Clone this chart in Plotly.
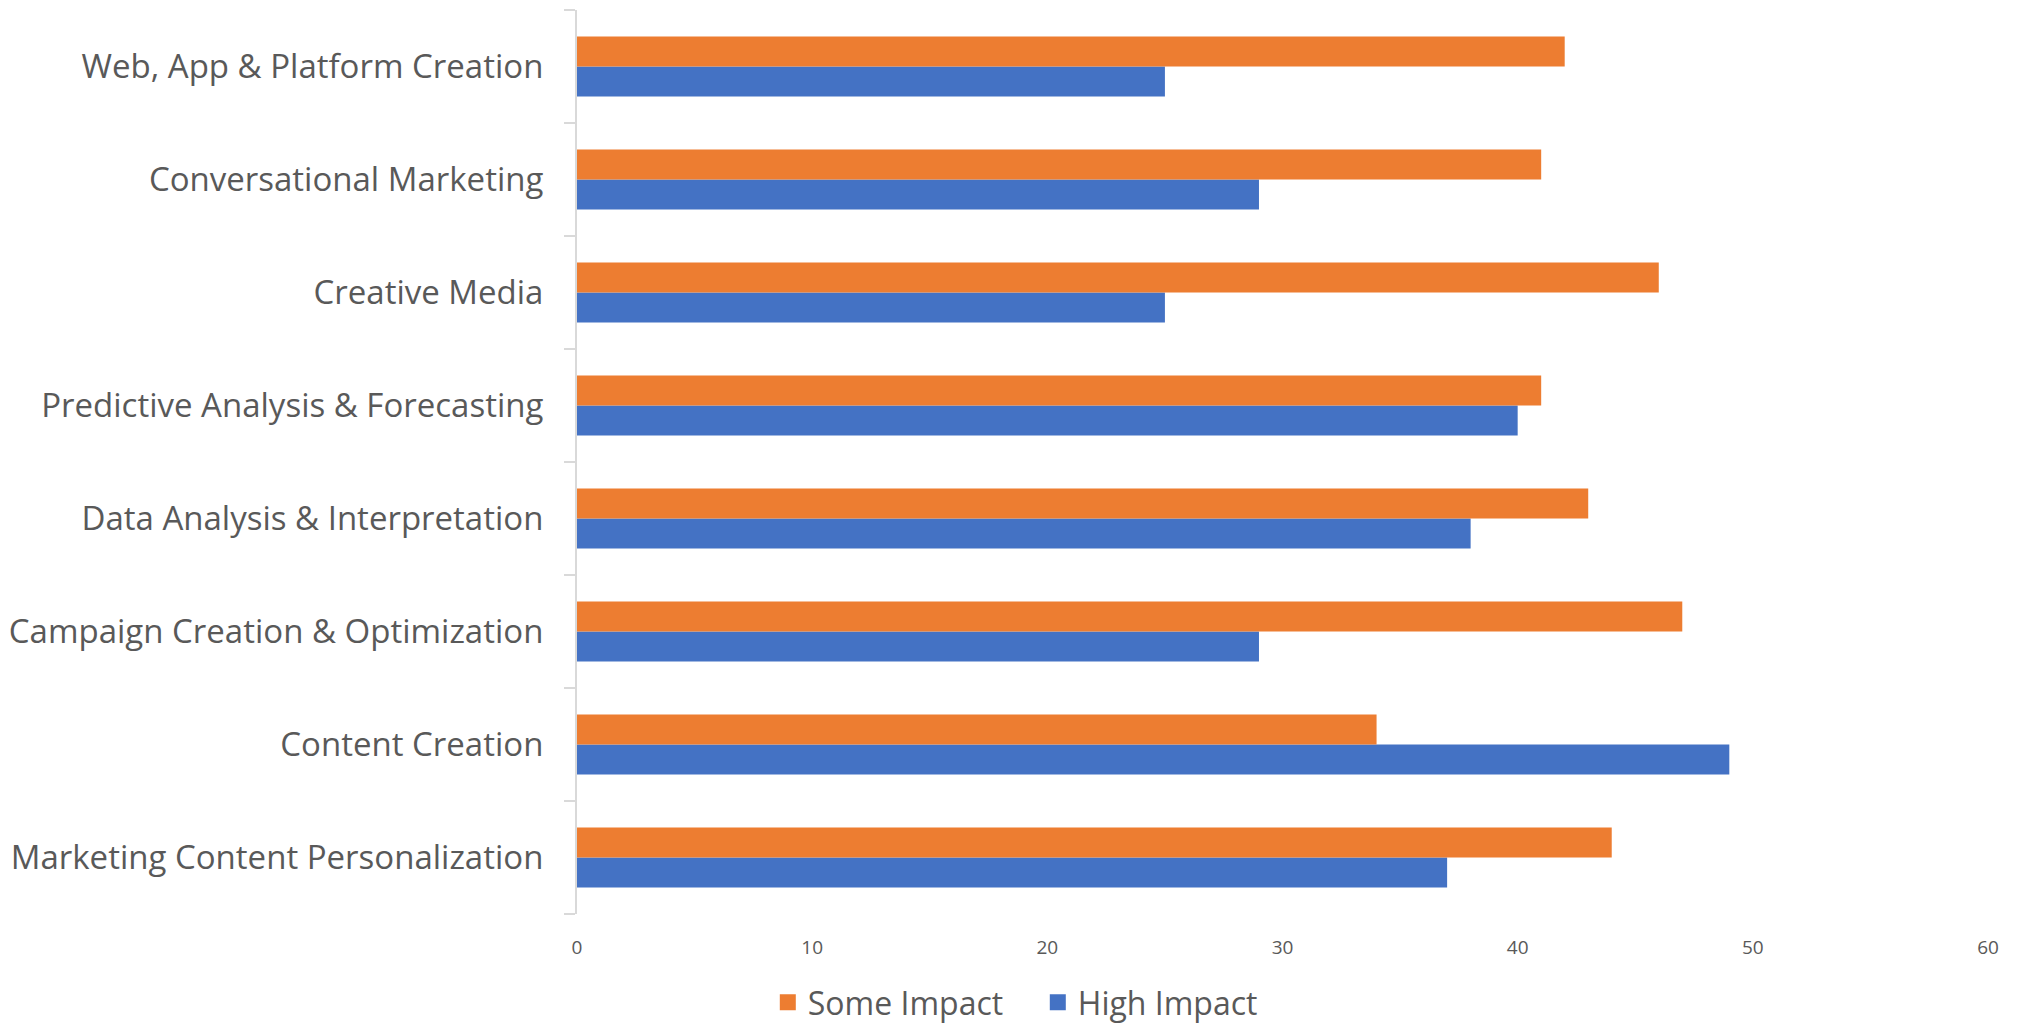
import plotly.graph_objects as go

# Categories listed bottom-to-top
categories = [
    "Marketing Content Personalization",
    "Content Creation",
    "Campaign Creation & Optimization",
    "Data Analysis & Interpretation",
    "Predictive Analysis & Forecasting",
    "Creative Media",
    "Conversational Marketing",
    "Web, App & Platform Creation",
]
high_impact = [37, 49, 29, 38, 40, 25, 29, 25]
some_impact = [44, 34, 47, 43, 41, 46, 41, 42]
x_ticks = [0, 10, 20, 30, 40, 50, 60]

BLUE = "#4472C4"
ORANGE = "#ED7D31"
TEXT = "#595959"
FONT = "Open Sans, Noto Sans, sans-serif"

fig = go.Figure()
fig.add_trace(go.Bar(
    y=categories, x=high_impact, orientation="h", name="High Impact",
    marker=dict(color=BLUE, line=dict(width=0)), showlegend=False,
))
fig.add_trace(go.Bar(
    y=categories, x=some_impact, orientation="h", name="Some Impact",
    marker=dict(color=ORANGE, line=dict(width=0)), showlegend=False,
))
# Legend entries with larger square swatches
for name, color in [("Some Impact", ORANGE), ("High Impact", BLUE)]:
    fig.add_trace(go.Scatter(
        x=[None], y=[None], mode="markers", name=name,
        marker=dict(symbol="square", size=16, color=color),
    ))

fig.update_layout(
    width=2023, height=1030,
    barmode="group", bargap=0.47, bargroupgap=0,
    plot_bgcolor="white", paper_bgcolor="white",
    margin=dict(l=577, r=35, t=10, b=116),
    font=dict(family=FONT, color=TEXT),
    showlegend=True,
    legend=dict(
        orientation="h",
        xref="container", yref="container",
        x=0.513, xanchor="center", y=-0.011, yanchor="bottom",
        font=dict(size=32, color=TEXT),
        itemwidth=30, entrywidth=225, entrywidthmode="pixels",
    ),
)
fig.update_xaxes(
    range=[0, 60], tickvals=x_ticks, showgrid=False, zeroline=False,
    showline=False, tickfont=dict(size=19, color=TEXT), ticks="",
    ticklabelstandoff=20,
)
fig.update_yaxes(
    type="category", showgrid=False, zeroline=False,
    showline=True, linecolor="#D9D9D9", linewidth=2,
    ticks="outside", tickson="boundaries", ticklen=11, tickcolor="#D9D9D9", tickwidth=2,
    tickfont=dict(size=33, color=TEXT), ticklabelstandoff=25,
)

fig.write_html("out.html")
